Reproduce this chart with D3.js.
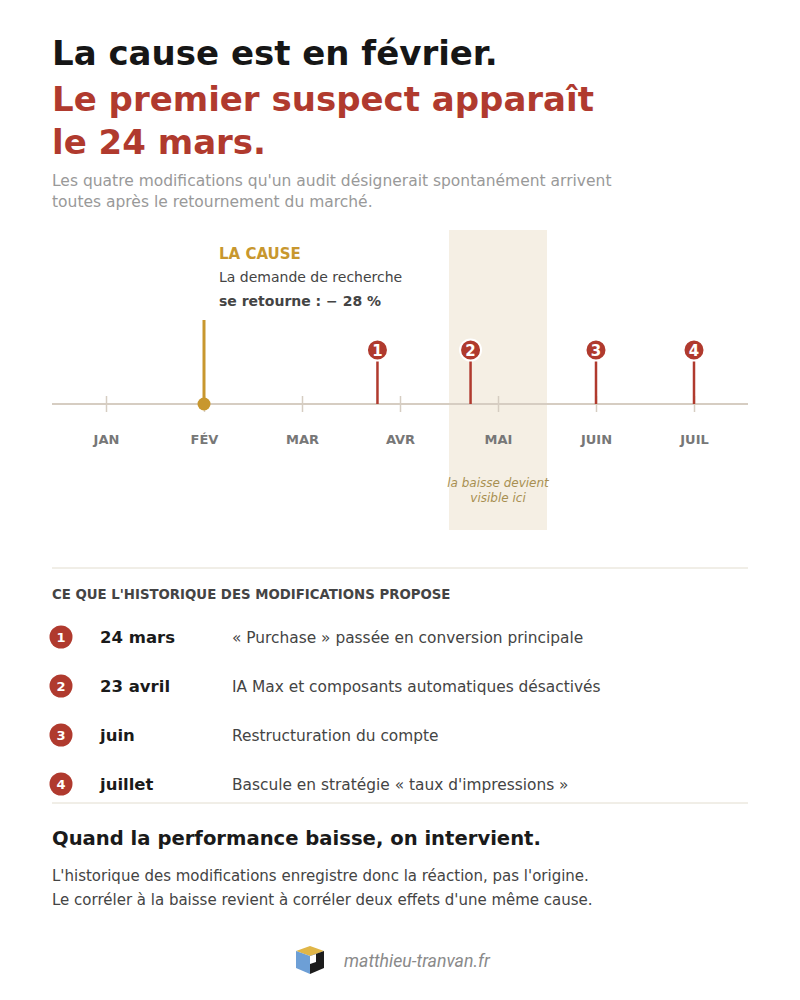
<!DOCTYPE html>
<html>
<head>
<meta charset="utf-8">
<script src="https://cdn.jsdelivr.net/npm/d3@7"></script>
<style>
  body { margin: 0; background: #fff; }
  svg { display: block; font-family: "DejaVu Sans", sans-serif; }
</style>
</head>
<body>
<svg id="chart" width="800" height="1000"></svg>
<script>
// month ticks on the timeline (index 0 = janvier)
var months = ["JAN", "FÉV", "MAR", "AVR", "MAI", "JUIN", "JUIL"];

// the cause: demand turns in February (position in months)
var cause = { pos: 1, label: "LA CAUSE", text1: "La demande de recherche", text2: "se retourne : − 28 %" };

// the four changes found in the change history
var changeIds = [1, 2, 3, 4];
var changePos = [2.77, 3.72, 5, 6];
var changeDates = ["24 mars", "23 avril", "juin", "juillet"];
var changeTexts = [
  "« Purchase » passée en conversion principale",
  "IA Max et composants automatiques désactivés",
  "Restructuration du compte",
  "Bascule en stratégie « taux d'impressions »"
];

// window where the drop becomes visible (mid-april to mid-may)
var dropWindow = [3.5, 4.5];

var RED = "#b03a2e";
var GOLD = "#c8972e";

var svg = d3.select("#chart");

var xScale = d3.scaleLinear().domain([0, 6]).range([106, 694]);
var axisY = 404;

// ---- titles
svg.append("text").attr("x", 52).attr("y", 65)
  .style("font-size", "34px").style("font-weight", "bold").style("fill", "#161616")
  .text("La cause est en février.");
svg.append("text").attr("x", 52).attr("y", 111)
  .style("font-size", "34px").style("font-weight", "bold").style("fill", RED)
  .text("Le premier suspect apparaît");
svg.append("text").attr("x", 52).attr("y", 154)
  .style("font-size", "34px").style("font-weight", "bold").style("fill", RED)
  .text("le 24 mars.");
svg.append("text").attr("x", 52).attr("y", 186)
  .style("font-size", "15.5px").style("fill", "#999")
  .text("Les quatre modifications qu'un audit désignerait spontanément arrivent");
svg.append("text").attr("x", 52).attr("y", 207)
  .style("font-size", "15.5px").style("fill", "#999")
  .text("toutes après le retournement du marché.");

// ---- shaded window
svg.append("rect")
  .attr("x", xScale(dropWindow[0]))
  .attr("y", 230)
  .attr("width", xScale(dropWindow[1]) - xScale(dropWindow[0]))
  .attr("height", 300)
  .style("fill", "#f5efe4");

svg.append("text").attr("x", xScale(4)).attr("y", 487)
  .attr("text-anchor", "middle")
  .style("font-size", "12px").style("font-style", "italic").style("fill", "#a88f52")
  .text("la baisse devient");
svg.append("text").attr("x", xScale(4)).attr("y", 502)
  .attr("text-anchor", "middle")
  .style("font-size", "12px").style("font-style", "italic").style("fill", "#a88f52")
  .text("visible ici");

// ---- axis
svg.append("line")
  .attr("x1", 52).attr("x2", 748)
  .attr("y1", axisY).attr("y2", axisY)
  .style("stroke", "#d6cdc2").style("stroke-width", "2px");

var xAxis = d3.axisBottom(xScale)
  .tickValues(d3.range(months.length))
  .tickFormat(function (d) { return months[d]; })
  .tickSize(8)
  .tickPadding(23);

var axisG = svg.append("g")
  .attr("transform", "translate(0," + axisY + ")")
  .call(xAxis);
axisG.select("path.domain").remove();
axisG.selectAll(".tick line")
  .attr("y1", -8)
  .style("stroke", "#d6cdc2").style("stroke-width", "1.5px");
axisG.selectAll(".tick text")
  .style("font-family", "DejaVu Sans, sans-serif")
  .style("font-size", "13px").style("font-weight", "bold").style("fill", "#777");

// ---- cause marker
var cx = xScale(cause.pos);
svg.append("line")
  .attr("x1", cx).attr("x2", cx)
  .attr("y1", 320).attr("y2", axisY)
  .style("stroke", GOLD).style("stroke-width", "3px");
svg.append("circle")
  .attr("cx", cx).attr("cy", axisY).attr("r", 6.5)
  .style("fill", GOLD);

svg.append("text").attr("x", 219).attr("y", 259)
  .style("font-size", "15px").style("font-weight", "bold").style("fill", GOLD)
  .text(cause.label);
svg.append("text").attr("x", 219).attr("y", 282)
  .style("font-size", "14px").style("fill", "#444")
  .text(cause.text1);
svg.append("text").attr("x", 219).attr("y", 306)
  .style("font-size", "14px").style("font-weight", "bold").style("fill", "#444")
  .text(cause.text2);

// ---- change markers
var changes = changeIds.map(function (id, i) {
  return { id: id, x: xScale(changePos[i]) };
});

var marker = svg.selectAll("g.change")
  .data(changes).enter()
  .append("g")
  .attr("class", "change")
  .attr("transform", function (d) { return "translate(" + d.x + ",0)"; });

marker.append("line")
  .attr("x1", 0).attr("x2", 0)
  .attr("y1", 358).attr("y2", axisY)
  .style("stroke", RED).style("stroke-width", "2.5px");
marker.append("circle")
  .attr("cx", 0).attr("cy", 350).attr("r", 10.5)
  .style("fill", RED).style("stroke", "#fff").style("stroke-width", "2px");
marker.append("text")
  .attr("x", 0).attr("y", 355.5)
  .attr("text-anchor", "middle")
  .style("font-size", "15px").style("font-weight", "bold").style("fill", "#fff")
  .text(function (d) { return d.id; });

// ---- list of changes
svg.append("line")
  .attr("x1", 52).attr("x2", 748).attr("y1", 568).attr("y2", 568)
  .style("stroke", "#e2ddcf").style("stroke-width", "1px");
svg.append("text").attr("x", 52).attr("y", 599)
  .style("font-size", "13.3px").style("font-weight", "bold").style("fill", "#444")
  .text("CE QUE L'HISTORIQUE DES MODIFICATIONS PROPOSE");

var rowY = d3.scalePoint().domain(changeIds).range([637, 784]);

var row = svg.selectAll("g.row")
  .data(changeIds).enter()
  .append("g")
  .attr("class", "row")
  .attr("transform", function (d) { return "translate(0," + rowY(d) + ")"; });

row.append("circle")
  .attr("cx", 61).attr("cy", 0).attr("r", 11.5)
  .style("fill", RED);
row.append("text")
  .attr("x", 61).attr("y", 5)
  .attr("text-anchor", "middle")
  .style("font-size", "13px").style("font-weight", "bold").style("fill", "#fff")
  .text(function (d) { return d; });
row.append("text")
  .attr("x", 100).attr("y", 6)
  .style("font-size", "16.5px").style("font-weight", "bold").style("fill", "#1a1a1a")
  .text(function (d, i) { return changeDates[i]; });
row.append("text")
  .attr("x", 232).attr("y", 6)
  .style("font-size", "15.4px").style("fill", "#444")
  .text(function (d, i) { return changeTexts[i]; });

svg.append("line")
  .attr("x1", 52).attr("x2", 748).attr("y1", 803).attr("y2", 803)
  .style("stroke", "#e2ddcf").style("stroke-width", "1px");

// ---- conclusion
svg.append("text").attr("x", 52).attr("y", 845)
  .style("font-size", "19.6px").style("font-weight", "bold").style("fill", "#1a1a1a")
  .text("Quand la performance baisse, on intervient.");
svg.append("text").attr("x", 52).attr("y", 881)
  .style("font-size", "15px").style("fill", "#444")
  .text("L'historique des modifications enregistre donc la réaction, pas l'origine.");
svg.append("text").attr("x", 52).attr("y", 905)
  .style("font-size", "15px").style("fill", "#444")
  .text("Le corréler à la baisse revient à corréler deux effets d'une même cause.");

// ---- footer logo + site
var logo = svg.append("g").attr("transform", "translate(310,960)");
logo.append("path").attr("d", "M-14,-9 L0,-14 L14,-9 L0,-4 Z").style("fill", "#e0b648");
logo.append("path").attr("d", "M-14,-9 L0,-4 L0,14 L-14,8 Z").style("fill", "#6d9fd6");
logo.append("path").attr("d", "M0,-4 L14,-9 L14,8 L0,14 Z").style("fill", "#1c1c1c");
logo.append("path").attr("d", "M0,-4 L6,-6 L6,2 L0,4 Z").style("fill", "#fff");

svg.append("text").attr("x", 344).attr("y", 967)
  .style("font-family", "Roboto, sans-serif")
  .style("font-size", "17.7px").style("font-style", "italic").style("fill", "#8a8a8a")
  .text("matthieu-tranvan.fr");
</script>
</body>
</html>
